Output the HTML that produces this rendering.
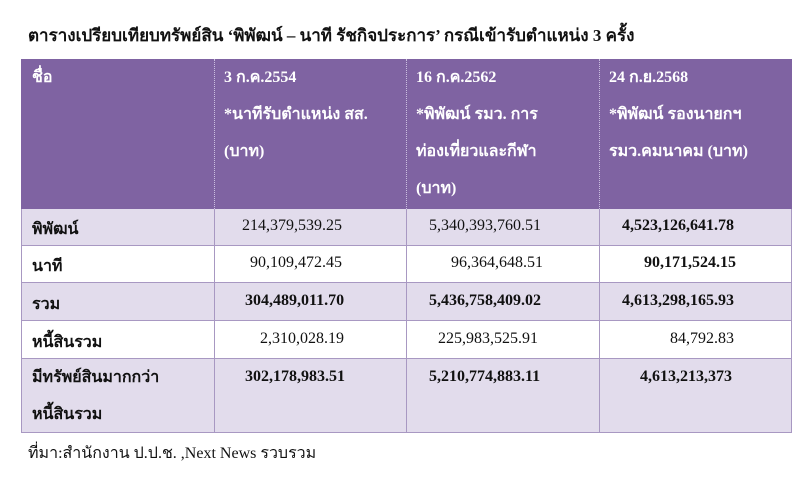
<!DOCTYPE html>
<html><head><meta charset="utf-8"><style>
body{margin:0;width:807px;height:491px;background:#fff;position:relative;overflow:hidden;font-family:"Liberation Serif","Noto Serif CJK SC",serif;color:#111}
.a{position:absolute;white-space:nowrap}
.t{font-weight:bold;font-size:17px;left:28px;top:22px}
.hd{position:absolute;left:21px;top:59px;width:771px;height:150px;background:#7f63a2}
.r{position:absolute;left:21px;width:771px;border-bottom:1px solid #a898c2;box-sizing:border-box}
.v{position:absolute;top:59px;height:374px;width:1px;background:#a898c2}
.h{color:#fff;font-weight:bold;font-size:16px;line-height:37px}
.c{font-size:16px}
.b{font-weight:bold}
</style></head><body>
<div class="a t">ตารางเปรียบเทียบทรัพย์สิน ‘พิพัฒน์ – นาที รัชกิจประการ’ กรณีเข้ารับตำแหน่ง 3 ครั้ง</div>
<div class="hd"></div>
<div class="r" style="top:209px;height:37px;background:#e2dcec"></div>
<div class="r" style="top:246px;height:37px;background:#fff"></div>
<div class="r" style="top:283px;height:38px;background:#e2dcec"></div>
<div class="r" style="top:321px;height:38px;background:#fff"></div>
<div class="r" style="top:359px;height:74px;background:#e2dcec"></div>
<div class="v" style="left:21px;top:209px;height:224px"></div>
<div class="v" style="left:214px;top:209px;height:224px"></div>
<div class="v" style="left:406px;top:209px;height:224px"></div>
<div class="v" style="left:599px;top:209px;height:224px"></div>
<div class="v" style="left:791px;top:209px;height:224px"></div>
<div style="position:absolute;left:214px;top:59px;height:150px;border-left:1px dotted #cbbfe0"></div>
<div style="position:absolute;left:406px;top:59px;height:150px;border-left:1px dotted #cbbfe0"></div>
<div style="position:absolute;left:599px;top:59px;height:150px;border-left:1px dotted #cbbfe0"></div>
<div class="a h" style="left:32px;top:59px">ชื่อ</div>
<div class="a h" style="left:224px;top:59px">3 ก.ค.2554<br>*นาทีรับตำแหน่ง สส.<br>(บาท)</div>
<div class="a h" style="left:416px;top:59px">16 ก.ค.2562<br>*พิพัฒน์ รมว. การ<br>ท่องเที่ยวและกีฬา<br>(บาท)</div>
<div class="a h" style="left:609px;top:59px">24 ก.ย.2568<br>*พิพัฒน์ รองนายกฯ<br>รมว.คมนาคม (บาท)</div>
<div class="a c b" style="left:32px;top:217px">พิพัฒน์</div>
<div class="a c b" style="left:32px;top:254px">นาที</div>
<div class="a c b" style="left:32px;top:292px">รวม</div>
<div class="a c b" style="left:32px;top:330px">หนี้สินรวม</div>
<div class="a c b" style="left:32px;top:368px;line-height:37px;top:359px">มีทรัพย์สินมากกว่า<br>หนี้สินรวม</div>
<div class="a c" style="left:242px;top:217px">214,379,539.25</div>
<div class="a c" style="left:250px;top:254px">90,109,472.45</div>
<div class="a c b" style="left:245px;top:292px">304,489,011.70</div>
<div class="a c" style="left:260px;top:330px">2,310,028.19</div>
<div class="a c b" style="left:245px;top:368px">302,178,983.51</div>
<div class="a c" style="left:429px;top:217px">5,340,393,760.51</div>
<div class="a c" style="left:451px;top:254px">96,364,648.51</div>
<div class="a c b" style="left:429px;top:292px">5,436,758,409.02</div>
<div class="a c" style="left:438px;top:330px">225,983,525.91</div>
<div class="a c b" style="left:429px;top:368px">5,210,774,883.11</div>
<div class="a c b" style="left:622px;top:217px">4,523,126,641.78</div>
<div class="a c b" style="left:644px;top:254px">90,171,524.15</div>
<div class="a c b" style="left:622px;top:292px">4,613,298,165.93</div>
<div class="a c" style="left:670px;top:330px">84,792.83</div>
<div class="a c b" style="left:640px;top:368px">4,613,213,373</div>
<div class="a c" style="left:28px;top:441px">ที่มา:สำนักงาน ป.ป.ช. ,Next News รวบรวม</div>
</body></html>
